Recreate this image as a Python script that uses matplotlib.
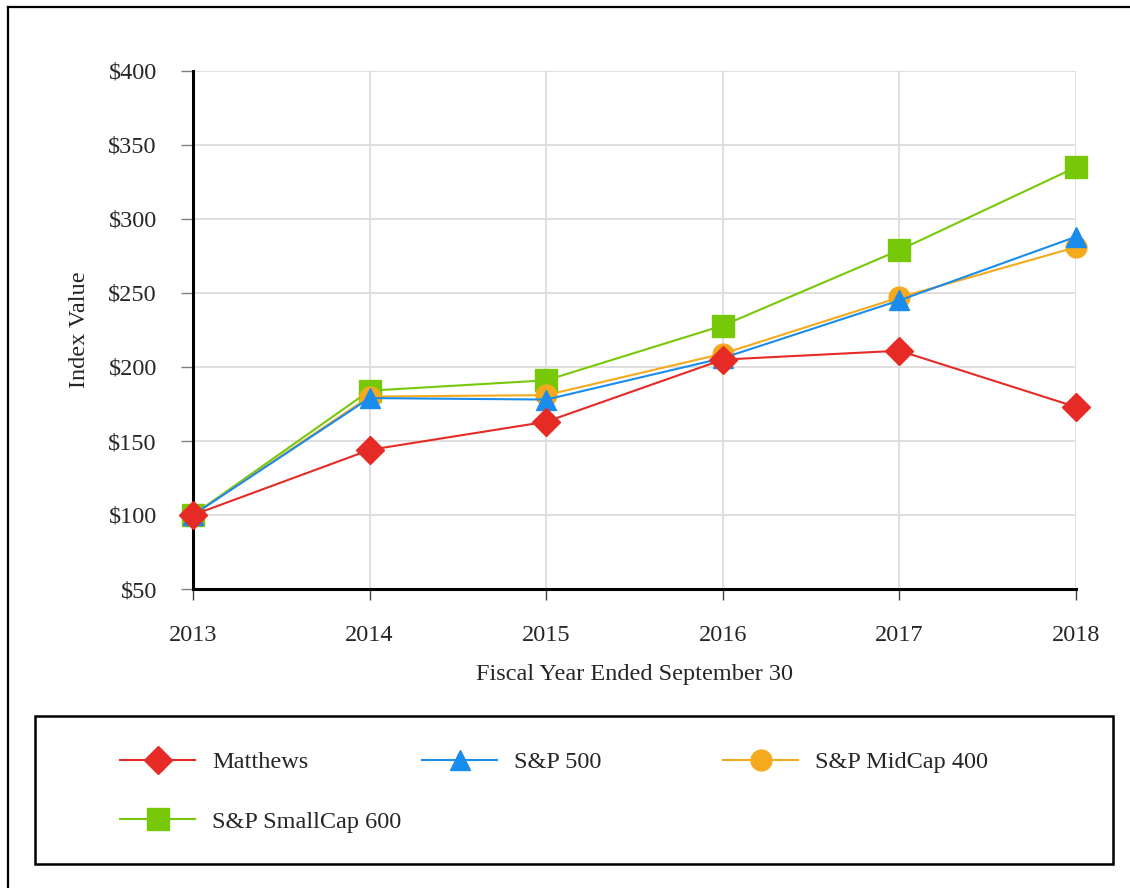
import matplotlib
matplotlib.use("Agg")
import matplotlib.pyplot as plt
from matplotlib.lines import Line2D
from matplotlib.patches import Rectangle

# values
years = [2013, 2014, 2015, 2016, 2017, 2018]
matthews = [100, 144, 163, 205, 211, 173]
sp500 = [100, 179, 178, 206, 245, 288]
midcap400 = [100, 180, 181, 209, 247, 281]
smallcap600 = [100, 184, 191, 228, 279, 335]
y_ticks = [50, 100, 150, 200, 250, 300, 350, 400]

RED = "#e62a26"
BLUE = "#1a8ceb"
ORANGE = "#f5aa1e"
GREEN = "#78c80a"
TEXT = "#262626"

plt.rcParams["font.family"] = ["Liberation Serif", "DejaVu Serif"]
plt.rcParams["font.size"] = 17.5
plt.rcParams["text.color"] = TEXT

W, H = 1130, 888
fig = plt.figure(figsize=(W / 100, H / 100), dpi=100)
ax = fig.add_axes([193 / W, 1 - 589 / H, (1076 - 193) / W, (589 - 71) / H])

series = [
    ("S&P SmallCap 600", smallcap600, GREEN, "s", 16),
    ("S&P MidCap 400", midcap400, ORANGE, "o", 15),
    ("S&P 500", sp500, BLUE, "^", 15),
    ("Matthews", matthews, RED, "D", 14),
]
handles = {}
for z, (name, vals, col, mk, ms) in enumerate(series):
    h, = ax.plot(years, vals, color=col, lw=1.5, marker=mk, ms=ms,
                 mec=col, mfc=col, label=name, clip_on=False, zorder=3 + z)
    handles[name] = h

ax.set_xlim(2013, 2018)
ax.set_ylim(50, 400)
ax.set_xticks(years)
ax.set_yticks(y_ticks)
ax.set_yticklabels([f"${v}" for v in y_ticks])
ax.grid(True, color="#dcdcdc", lw=1.3)
ax.set_axisbelow(True)

for s in ["top", "right"]:
    ax.spines[s].set_visible(False)
for s in ["left", "bottom"]:
    ax.spines[s].set_linewidth(2.2)
    ax.spines[s].set_color("black")
    ax.spines[s].set_zorder(2.5)

ax.tick_params(axis="y", length=9, width=1, color="#808080", pad=17,
               labelcolor=TEXT)
ax.tick_params(axis="x", length=8, width=1, color="#404040", pad=18,
               labelcolor=TEXT)
ax.set_xlabel("Fiscal Year Ended September 30", labelpad=13, color=TEXT)
ax.set_ylabel("Index Value", labelpad=13, color=TEXT)

# outer frame (left and top edges visible)
fig.add_artist(Line2D([8 / W, 8 / W], [0, 1 - 7 / H], color="black", lw=1.6,
                      transform=fig.transFigure))
fig.add_artist(Line2D([8 / W, 1], [1 - 7 / H, 1 - 7 / H], color="black",
                      lw=1.6, transform=fig.transFigure))

# legend box
fig.add_artist(Rectangle((35 / W, 1 - 864 / H), (1113 - 35) / W,
                         (864 - 716) / H, fill=False, ec="black", lw=1.8,
                         transform=fig.transFigure))

leg_kw = dict(frameon=False, borderpad=0, borderaxespad=0, handlelength=3.1,
              handletextpad=0.7, labelspacing=1.55, fontsize=17.5,
              loc="center left")
fig.legend([handles["Matthews"], handles["S&P SmallCap 600"]],
           ["Matthews", "S&P SmallCap 600"],
           bbox_to_anchor=(120 / W, 1 - 792 / H), **leg_kw)
fig.legend([handles["S&P 500"]], ["S&P 500"],
           bbox_to_anchor=(422 / W, 1 - 762 / H), **leg_kw)
fig.legend([handles["S&P MidCap 400"]], ["S&P MidCap 400"],
           bbox_to_anchor=(723 / W, 1 - 762 / H), **leg_kw)

fig.savefig("out.png", dpi=100)
